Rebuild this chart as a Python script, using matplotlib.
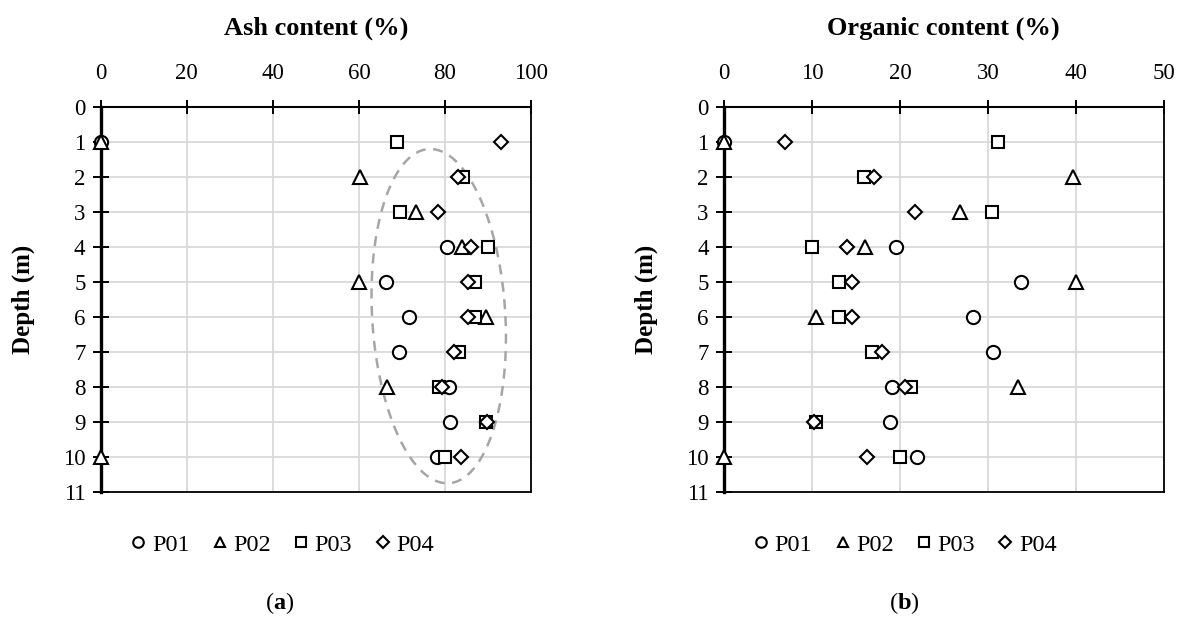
import numpy as np
import matplotlib
matplotlib.use("Agg")
import matplotlib.pyplot as plt
from matplotlib.lines import Line2D

plt.rcParams['font.family'] = ['Liberation Serif', 'DejaVu Serif']
plt.rcParams['mathtext.fontset'] = 'custom'
plt.rcParams['mathtext.rm'] = 'Liberation Serif'
plt.rcParams['mathtext.bf'] = 'Liberation Serif:bold'

nan = np.nan
depth = [1, 2, 3, 4, 5, 6, 7, 8, 9, 10]
wells = ['P01', 'P02', 'P03', 'P04']

# ash content (%) per well, by depth
ash_p01 = [0, nan, nan, 80.5, 66.2, 71.7, 69.4, 80.9, 81.1, 78.1]
ash_p02 = [0, 60.3, 73.2, 84.0, 60.0, 89.6, nan, 66.6, nan, 0]
ash_p03 = [68.9, 84.1, 69.6, 90.0, 86.9, 86.9, 83.2, 78.7, 89.6, 80.0]
ash_p04 = [93.1, 83.0, 78.3, 86.0, 85.4, 85.4, 82.1, 79.4, 89.8, 83.7]

# organic content (%) per well, by depth
org_p01 = [0, nan, nan, 19.5, 33.8, 28.3, 30.6, 19.1, 18.9, 21.9]
org_p02 = [0, 39.7, 26.8, 16.0, 40.0, 10.4, nan, 33.4, nan, 0]
org_p03 = [31.1, 15.9, 30.4, 10.0, 13.1, 13.1, 16.8, 21.3, 10.4, 20.0]
org_p04 = [6.9, 17.0, 21.7, 14.0, 14.6, 14.6, 17.9, 20.6, 10.2, 16.3]

ash = [ash_p01, ash_p02, ash_p03, ash_p04]
org = [org_p01, org_p02, org_p03, org_p04]

markers = ['o', '^', 's', 'D']
sizes = [9.5, 9.5, 9.2, 7.6]

# dashed outline grouping the high-ash samples
ell_cx, ell_cy = 78.55, 5.985
ell_a, ell_b, ell_shear = 15.5, 4.775, 0.41

fig = plt.figure(figsize=(11.84, 6.19), dpi=100)
ax1 = fig.add_axes([0.0851, 0.2057, 0.3634, 0.622])
ax2 = fig.add_axes([0.6115, 0.2057, 0.3716, 0.622])

FS = 16.5


def style_axis(ax, xmax, xstep):
    ax.set_xlim(0, xmax)
    ax.set_ylim(11, 0)
    ax.set_xticks(np.arange(0, xmax + 1, xstep))
    ax.set_yticks(range(0, 12))
    ax.xaxis.tick_top()
    ax.tick_params(axis='x', direction='inout', length=10, width=1.4,
                   labelsize=FS, pad=11, top=True, bottom=False)
    ax.tick_params(axis='y', direction='inout', length=12, width=1.4,
                   labelsize=FS, pad=5)
    ax.grid(True, color='#d9d9d9', lw=1.3)
    ax.set_axisbelow(True)
    ax.spines['left'].set_linewidth(2.4)
    ax.spines['top'].set_linewidth(1.5)
    ax.spines['right'].set_linewidth(1.3)
    ax.spines['bottom'].set_linewidth(1.3)
    ax.set_ylabel('Depth (m)', fontsize=FS + 1.5, fontweight='bold')


for ax, series in [(ax1, ash), (ax2, org)]:
    for vals, m, ms, name in zip(series, markers, sizes, wells):
        ax.plot(vals, depth, ls='none', marker=m, ms=ms, mfc='white',
                mec='black', mew=1.5, clip_on=False, zorder=3, label=name)

style_axis(ax1, 100, 20)
style_axis(ax2, 50, 10)
ax1.yaxis.set_label_coords(-0.153, 0.5)
ax2.yaxis.set_label_coords(-0.149, 0.5)

t = np.linspace(0, 2 * np.pi, 300)
ey = ell_cy + ell_b * np.sin(t)
ex = ell_cx + ell_a * np.cos(t) + ell_shear * (ey - ell_cy)
ax1.plot(ex, ey, color='#a6a6a6', lw=1.8, ls=(0, (4, 3)), zorder=2)

fig.text(0.2669, 0.955, 'Ash content (%)', ha='center', va='center',
         fontsize=19, fontweight='bold')
fig.text(0.7965, 0.955, 'Organic content (%)', ha='center', va='center',
         fontsize=19, fontweight='bold')

handles = [Line2D([], [], ls='none', marker=m, ms=ms * 0.8, mfc='white',
                  mec='black', mew=1.5) for m, ms in zip(markers, sizes)]
for xc in [0.238, 0.764]:
    fig.legend(handles, wells, loc='center', bbox_to_anchor=(xc, 0.12),
               ncol=4, frameon=False, fontsize=17.5, handlelength=0.7,
               handletextpad=0.2, columnspacing=0.9)

fig.text(0.236, 0.026, r'($\mathbf{a}$)', ha='center', va='center', fontsize=17.5)
fig.text(0.764, 0.026, r'($\mathbf{b}$)', ha='center', va='center', fontsize=17.5)

fig.savefig('out.png', dpi=100)
